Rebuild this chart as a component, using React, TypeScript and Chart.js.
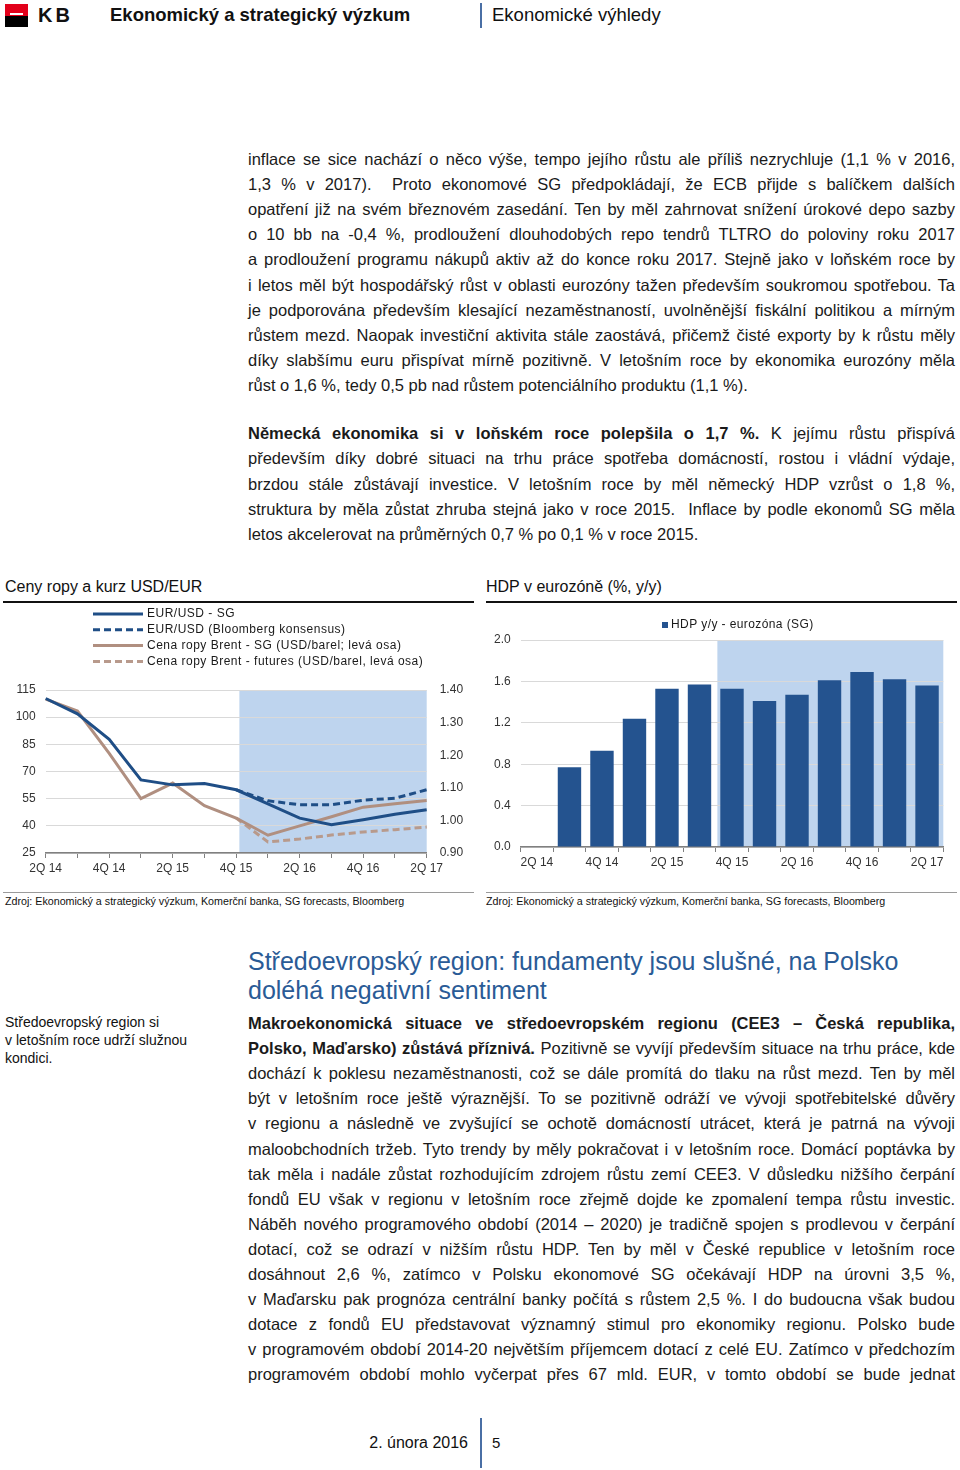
import React, { useEffect, useRef } from 'react';
import { Chart, registerables } from 'chart.js';

Chart.register(...registerables);

// ---------- DATA ----------
const QUARTERS = ['2Q 14', '3Q 14', '4Q 14', '1Q 15', '2Q 15', '3Q 15', '4Q 15', '1Q 16', '2Q 16', '3Q 16', '4Q 16', '1Q 17', '2Q 17'];
const EURUSD_SG = [1.374, 1.327, 1.249, 1.124, 1.109, 1.113, 1.094, 1.051, 1.007, 0.987, 1.002, 1.019, 1.033];
const EURUSD_BBG = [null, null, null, null, null, null, 1.094, 1.06, 1.048, 1.048, 1.062, 1.068, 1.094];
const BRENT_SG = [110, 103.4, 80, 55, 63.6, 51.1, 44.3, 34.8, 40, 45, 50.3, 52.2, 54];
const BRENT_FUT = [null, null, null, null, null, null, 44.3, 31.1, 32.7, 34.9, 36.6, 37.9, 39.3];
const OIL_AXIS = { min: 25, max: 115, step: 15 };
const FX_AXIS = { min: 0.9, max: 1.4, step: 0.1 };
const OIL_FORECAST_FROM = 6.1;

const GDP_EA = [null, 0.77, 0.93, 1.24, 1.53, 1.57, 1.53, 1.41, 1.47, 1.61, 1.69, 1.62, 1.56];
const GDP_AXIS = { min: 0, max: 2, step: 0.4 };
const GDP_FORECAST_FROM = 5.55;

const LEGEND_OIL = [
  'EUR/USD - SG',
  'EUR/USD (Bloomberg konsensus)',
  'Cena ropy Brent - SG (USD/barel; levá osa)',
  'Cena ropy Brent - futures (USD/barel, levá osa)',
];
const LEGEND_GDP = ['HDP y/y - eurozóna (SG)'];

// ---------- TEXT ----------
const P1 = [
  'inflace se sice nachází o něco výše, tempo jejího růstu ale příliš nezrychluje (1,1 % v 2016,',
  '1,3 % v 2017).  Proto ekonomové SG předpokládají, že ECB přijde s balíčkem dalších',
  'opatření již na svém březnovém zasedání. Ten by měl zahrnovat snížení úrokové depo sazby',
  'o 10 bb na -0,4 %, prodloužení dlouhodobých repo tendrů TLTRO do poloviny roku 2017',
  'a prodloužení programu nákupů aktiv až do konce roku 2017. Stejně jako v loňském roce by',
  'i letos měl být hospodářský růst v oblasti eurozóny tažen především soukromou spotřebou. Ta',
  'je podporována především klesající nezaměstnaností, uvolněnější fiskální politikou a mírným',
  'růstem mezd. Naopak investiční aktivita stále zaostává, přičemž čisté exporty by k růstu měly',
  'díky slabšímu euru přispívat mírně pozitivně. V letošním roce by ekonomika eurozóny měla',
  'růst o 1,6 %, tedy 0,5 pb nad růstem potenciálního produktu (1,1 %).',
];
const P2 = [
  '**Německá ekonomika si v loňském roce polepšila o 1,7 %.** K jejímu růstu přispívá',
  'především díky dobré situaci na trhu práce spotřeba domácností, rostou i vládní výdaje,',
  'brzdou stále zůstávají investice. V letošním roce by měl německý HDP vzrůst o 1,8 %,',
  'struktura by měla zůstat zhruba stejná jako v roce 2015.  Inflace by podle ekonomů SG měla',
  'letos akcelerovat na průměrných 0,7 % po 0,1 % v roce 2015.',
];
const P3 = [
  '**Makroekonomická situace ve středoevropském regionu (CEE3 – Česká republika,**',
  '**Polsko, Maďarsko) zůstává příznivá.** Pozitivně se vyvíjí především situace na trhu práce, kde',
  'dochází k poklesu nezaměstnanosti, což se dále promítá do tlaku na růst mezd. Ten by měl',
  'být v letošním roce ještě výraznější. To se pozitivně odráží ve vývoji spotřebitelské důvěry',
  'v regionu a následně ve zvyšující se ochotě domácností utrácet, která je patrná na vývoji',
  'maloobchodních tržeb. Tyto trendy by měly pokračovat i v letošním roce. Domácí poptávka by',
  'tak měla i nadále zůstat rozhodujícím zdrojem růstu zemí CEE3. V důsledku nižšího čerpání',
  'fondů EU však v regionu v letošním roce zřejmě dojde ke zpomalení tempa růstu investic.',
  'Náběh nového programového období (2014 – 2020) je tradičně spojen s prodlevou v čerpání',
  'dotací, což se odrazí v nižším růstu HDP. Ten by měl v České republice v letošním roce',
  'dosáhnout 2,6 %, zatímco v Polsku ekonomové SG očekávají HDP na úrovni 3,5 %,',
  'v Maďarsku pak prognóza centrální banky počítá s růstem 2,5 %. I do budoucna však budou',
  'dotace z fondů EU představovat významný stimul pro ekonomiky regionu. Polsko bude',
  'v programovém období 2014-20 největším příjemcem dotací z celé EU. Zatímco v předchozím',
  'programovém období mohlo vyčerpat přes 67 mld. EUR, v tomto období se bude jednat',
];
const HEADING = ['Středoevropský region: fundamenty jsou slušné, na Polsko', 'doléhá negativní sentiment'];
const SIDEBAR = ['Středoevropský region si', 'v letošním roce udrží služnou', 'kondici.'];
const SOURCE = 'Zdroj: Ekonomický a strategický výzkum, Komerční banka, SG forecasts, Bloomberg';

// ---------- STYLE ----------
const FONT = '"Liberation Sans", Arial, Helvetica, sans-serif';
const BLUE = '#1f4e86';
const BAR_BLUE = '#24538f';
const BROWN = '#b08f80';
const BROWN_LIGHT = '#b89a8c';
const SHADE = '#bed4ee';
const GRID = '#d9d9d9';
const AXIS = '#808080';
const TICK_COLOR = '#333333';

const legendPlugin = {
  id: 'customLegend',
  afterDraw(chart: any, _args: any, opts: any) {
    const { ctx } = chart;
    ctx.save();
    ctx.font = opts.font;
    ctx.textBaseline = 'middle';
    if ('letterSpacing' in ctx) (ctx as any).letterSpacing = opts.letterSpacing || '0px';
    chart.data.datasets.forEach((ds: any, i: number) => {
      const y = opts.y + i * opts.rowHeight;
      if (opts.marker === 'line') {
        ctx.strokeStyle = ds.borderColor;
        ctx.lineWidth = ds.borderWidth;
        ctx.setLineDash(ds.borderDash || []);
        ctx.beginPath();
        ctx.moveTo(opts.x, y);
        ctx.lineTo(opts.x + opts.markerWidth, y);
        ctx.stroke();
        ctx.setLineDash([]);
      } else {
        ctx.fillStyle = ds.backgroundColor;
        ctx.fillRect(opts.x, y - opts.markerWidth / 2, opts.markerWidth, opts.markerWidth);
      }
      ctx.fillStyle = opts.color;
      ctx.fillText(ds.label, opts.x + opts.markerWidth + opts.gap, y);
    });
    ctx.restore();
  },
};

const shadePlugin = {
  id: 'shade',
  beforeDraw(chart: any, _args: any, opts: any) {
    const { ctx, chartArea } = chart;
    const xs = chart.scales.x;
    const x0 = xs.getPixelForValue(opts.from);
    const x1 = opts.toEdge ? chartArea.right : xs.getPixelForValue(opts.to);
    ctx.save();
    ctx.fillStyle = opts.color;
    ctx.fillRect(x0, chartArea.top, x1 - x0, chartArea.bottom - chartArea.top);
    ctx.restore();
  },
};

const tickFont = { family: FONT, size: 12 };

function OilChart() {
  const ref = useRef<HTMLCanvasElement>(null);
  useEffect(() => {
    const chart = new Chart(ref.current as HTMLCanvasElement, {
      type: 'line',
      data: {
        labels: QUARTERS,
        datasets: [
          { label: LEGEND_OIL[0], data: EURUSD_SG, yAxisID: 'y1', borderColor: BLUE, borderWidth: 3, pointRadius: 0, tension: 0 },
          { label: LEGEND_OIL[1], data: EURUSD_BBG, yAxisID: 'y1', borderColor: BLUE, borderWidth: 3, borderDash: [7, 4], pointRadius: 0, tension: 0 },
          { label: LEGEND_OIL[2], data: BRENT_SG, yAxisID: 'y', borderColor: BROWN, borderWidth: 3, pointRadius: 0, tension: 0 },
          { label: LEGEND_OIL[3], data: BRENT_FUT, yAxisID: 'y', borderColor: BROWN_LIGHT, borderWidth: 3, borderDash: [7, 4], pointRadius: 0, tension: 0 },
        ] as any,
      },
      options: {
        animation: false,
        responsive: false,
        maintainAspectRatio: false,
        layout: { padding: { top: 85, left: 0, right: 0, bottom: 0 } },
        plugins: {
          legend: { display: false },
          tooltip: { enabled: false },
          customLegend: { x: 93, y: 9, rowHeight: 15.8, marker: 'line', markerWidth: 50, gap: 4, font: `12px ${FONT}`, letterSpacing: '0.5px', color: '#1a1a1a' },
          shade: { from: OIL_FORECAST_FROM, toEdge: true, color: SHADE },
        } as any,
        scales: {
          x: {
            type: 'category',
            offset: false,
            grid: { drawOnChartArea: false, drawTicks: true, tickLength: 5, color: AXIS },
            border: { color: AXIS, width: 1.5 },
            ticks: {
              autoSkip: false,
              maxRotation: 0,
              padding: 3,
              font: tickFont,
              color: TICK_COLOR,
              callback: (_v: any, i: number) => (i % 2 === 0 ? QUARTERS[i] : ''),
            },
            afterFit: (s: any) => { s.height = 27; },
          },
          y: {
            position: 'left',
            min: OIL_AXIS.min,
            max: OIL_AXIS.max,
            ticks: { stepSize: OIL_AXIS.step, padding: 10, font: tickFont, color: TICK_COLOR },
            grid: { color: GRID, drawTicks: false },
            border: { display: false },
            afterFit: (s: any) => { s.width = 45.7; },
          },
          y1: {
            position: 'right',
            min: FX_AXIS.min,
            max: FX_AXIS.max,
            ticks: { stepSize: FX_AXIS.step, padding: 13, font: tickFont, color: TICK_COLOR, callback: (v: any) => Number(v).toFixed(2) },
            grid: { display: false, drawTicks: false },
            border: { display: false },
            afterFit: (s: any) => { s.width = 48.3; },
          },
        } as any,
      },
      plugins: [legendPlugin, shadePlugin],
    });
    return () => chart.destroy();
  }, []);
  return <canvas ref={ref} width={475} height={275} style={{ position: 'absolute', left: 0, top: 605, width: 475, height: 275 }} />;
}

function GdpChart() {
  const ref = useRef<HTMLCanvasElement>(null);
  useEffect(() => {
    const chart = new Chart(ref.current as HTMLCanvasElement, {
      type: 'bar',
      data: {
        labels: QUARTERS,
        datasets: [
          { label: LEGEND_GDP[0], data: GDP_EA, backgroundColor: BAR_BLUE, barPercentage: 0.72, categoryPercentage: 1 },
        ] as any,
      },
      options: {
        animation: false,
        responsive: false,
        maintainAspectRatio: false,
        layout: { padding: { top: 35, left: 0, right: 16.7, bottom: 0 } },
        plugins: {
          legend: { display: false },
          tooltip: { enabled: false },
          customLegend: { x: 182, y: 20, rowHeight: 16, marker: 'box', markerWidth: 6, gap: 3, font: `12px ${FONT}`, letterSpacing: '0.4px', color: '#1a1a1a' },
          shade: { from: GDP_FORECAST_FROM, toEdge: true, color: SHADE },
        } as any,
        scales: {
          x: {
            type: 'category',
            offset: true,
            grid: { offset: true, drawOnChartArea: false, drawTicks: true, tickLength: 5, color: AXIS },
            border: { color: AXIS, width: 1.5 },
            ticks: {
              autoSkip: false,
              maxRotation: 0,
              padding: 3,
              font: tickFont,
              color: TICK_COLOR,
              callback: (_v: any, i: number) => (i % 2 === 0 ? QUARTERS[i] : ''),
            },
            afterFit: (s: any) => { s.height = 33; },
          },
          y: {
            min: GDP_AXIS.min,
            max: GDP_AXIS.max,
            ticks: { stepSize: GDP_AXIS.step, padding: 10, font: tickFont, color: TICK_COLOR, callback: (v: any) => Number(v).toFixed(1) },
            grid: { color: GRID, drawTicks: false },
            border: { display: false },
            afterFit: (s: any) => { s.width = 40.7; },
          },
        } as any,
      },
      plugins: [legendPlugin, shadePlugin],
    });
    return () => chart.destroy();
  }, []);
  return <canvas ref={ref} width={480} height={275} style={{ position: 'absolute', left: 480, top: 605, width: 480, height: 275 }} />;
}

function renderRich(text: string) {
  const parts = text.split('**');
  return parts.map((p, i) => (i % 2 === 1 ? <b key={i}>{p}</b> : <span key={i}>{p}</span>));
}

function Paragraph({ lines, start, step }: { lines: string[]; start: number; step: number }) {
  return (
    <>
      {lines.map((l, i) => {
        const last = i === lines.length - 1 && !l.endsWith('jednat');
        return (
          <div
            key={i}
            style={{
              position: 'absolute',
              left: 248,
              top: start + i * step - 13,
              width: 707,
              height: 25,
              lineHeight: '25px',
              fontSize: 16.5,
              wordSpacing: last ? 0 : -3,
              color: '#1a1a1a',
              textAlign: 'justify',
              textAlignLast: last ? 'left' : 'justify',
              whiteSpace: 'pre-wrap',
            } as any}
          >
            {renderRich(l)}
          </div>
        );
      })}
    </>
  );
}

const abs = (s: any) => ({ position: 'absolute', ...s } as any);

export default function App() {
  return (
    <div style={{ position: 'absolute', left: 0, top: 0, width: 960, height: 1470, background: '#fff', fontFamily: FONT, color: '#111', overflow: 'hidden' }}>
      {/* header */}
      <div style={abs({ left: 5, top: 4, width: 23, height: 12, background: '#e2001a' })} />
      <div style={abs({ left: 5, top: 16, width: 23, height: 11, background: '#000' })} />
      <div style={abs({ left: 10, top: 13, width: 13, height: 2, background: '#fff' })} />
      <div style={abs({ left: 38, top: 4, fontSize: 20, fontWeight: 'bold', lineHeight: '22px', letterSpacing: 3 })}>KB</div>
      <div style={abs({ left: 110, top: 5, fontSize: 18.5, fontWeight: 'bold', lineHeight: '20px' })}>Ekonomický a strategický výzkum</div>
      <div style={abs({ left: 480, top: 3, width: 2, height: 25, background: '#4a6fa5' })} />
      <div style={abs({ left: 492, top: 5, fontSize: 18.5, lineHeight: '20px' })}>Ekonomické výhledy</div>

      <Paragraph lines={P1} start={160} step={25.1} />
      <Paragraph lines={P2} start={434} step={25.25} />

      {/* chart titles */}
      <div style={abs({ left: 5, top: 578, fontSize: 16, lineHeight: '18px' })}>Ceny ropy a kurz USD/EUR</div>
      <div style={abs({ left: 486, top: 578, fontSize: 16, lineHeight: '18px' })}>HDP v eurozóně (%, y/y)</div>
      <div style={abs({ left: 3, top: 601, width: 471, height: 2, background: '#111' })} />
      <div style={abs({ left: 486, top: 601, width: 471, height: 2, background: '#111' })} />

      <OilChart />
      <GdpChart />

      <div style={abs({ left: 3, top: 892, width: 471, height: 1, background: '#9a9a9a' })} />
      <div style={abs({ left: 486, top: 892, width: 471, height: 1, background: '#9a9a9a' })} />
      <div style={abs({ left: 5, top: 895, fontSize: 10.7, lineHeight: '12px' })}>{SOURCE}</div>
      <div style={abs({ left: 486, top: 895, fontSize: 10.7, lineHeight: '12px' })}>{SOURCE}</div>

      {/* section heading */}
      {HEADING.map((h, i) => (
        <div key={i} style={abs({ left: 248, top: 947 + i * 29, fontSize: 25, lineHeight: '29px', color: '#2a5b96' })}>{h}</div>
      ))}
      {SIDEBAR.map((s, i) => (
        <div key={i} style={abs({ left: 5, top: 1013 + i * 18, fontSize: 14, lineHeight: '18px' })}>{s}</div>
      ))}

      <Paragraph lines={P3} start={1024} step={25.1} />

      {/* footer */}
      <div style={abs({ left: 300, width: 168, top: 1434, fontSize: 16, lineHeight: '18px', textAlign: 'right' })}>2. února 2016</div>
      <div style={abs({ left: 480, top: 1418, width: 2, height: 50, background: '#4a6fa5' })} />
      <div style={abs({ left: 492, top: 1434, fontSize: 15, lineHeight: '18px' })}>5</div>
    </div>
  );
}
